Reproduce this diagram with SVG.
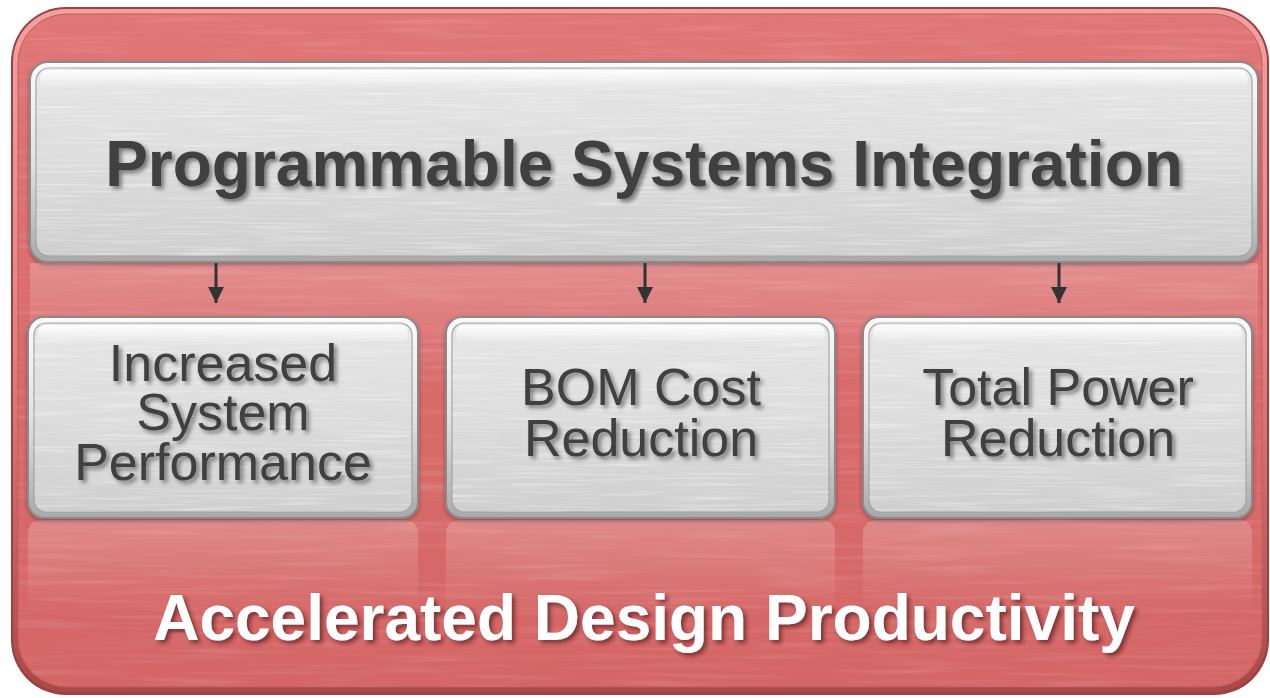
<svg xmlns="http://www.w3.org/2000/svg" width="1270" height="698" viewBox="0 0 1270 698">
  <style>
    .rim { fill: url(#rimGrad); stroke: #8a8a8a; stroke-width: 2; }
    .face { fill: url(#faceGrad); stroke: #a2a2a2; stroke-width: 1.2; }
    .shine { fill: url(#shineGrad); }
    .brush { filter: url(#streaks); opacity: 0.45; }
    .refl { fill: url(#reflGrad); }
    .head { font-family: "Liberation Sans", Arial, sans-serif; font-weight: bold; font-size: 64px; fill: #404040; text-anchor: middle; filter: url(#txtShadow); }
    .item { font-family: "Liberation Sans", Arial, sans-serif; font-size: 52px; fill: #404040; text-anchor: middle; filter: url(#txtShadow); }
    .foot { font-family: "Liberation Sans", Arial, sans-serif; font-weight: bold; font-size: 64px; fill: #ffffff; text-anchor: middle; filter: url(#txtShadowDark); }
    .conn { stroke: #333333; stroke-width: 3; fill: none; marker-end: url(#arrow); }
  </style>
  <defs>
    <linearGradient id="redGrad" x1="0" y1="0" x2="0" y2="1">
      <stop offset="0" stop-color="#e07676"/>
      <stop offset="0.5" stop-color="#d96b6b"/>
      <stop offset="1" stop-color="#d46666"/>
    </linearGradient>
    <linearGradient id="redRim" x1="0" y1="0" x2="0" y2="1">
      <stop offset="0" stop-color="#f2a0a0"/>
      <stop offset="0.5" stop-color="#e08080"/>
      <stop offset="1" stop-color="#a84848"/>
    </linearGradient>
    <linearGradient id="rimGrad" x1="0" y1="0" x2="0" y2="1">
      <stop offset="0" stop-color="#fbfbfb"/>
      <stop offset="0.5" stop-color="#e2e2e2"/>
      <stop offset="1" stop-color="#a9a9a9"/>
    </linearGradient>
    <linearGradient id="faceGrad" x1="0" y1="0" x2="0" y2="1">
      <stop offset="0" stop-color="#e6e6e6"/>
      <stop offset="0.5" stop-color="#dcdcdc"/>
      <stop offset="1" stop-color="#cfcfcf"/>
    </linearGradient>
    <linearGradient id="shineGrad" x1="0" y1="0" x2="0" y2="1">
      <stop offset="0" stop-color="#ffffff" stop-opacity="0.95"/>
      <stop offset="1" stop-color="#ffffff" stop-opacity="0"/>
    </linearGradient>
    <linearGradient id="reflGrad" x1="0" y1="0" x2="0" y2="1">
      <stop offset="0" stop-color="#ffffff" stop-opacity="0.22"/>
      <stop offset="1" stop-color="#ffffff" stop-opacity="0"/>
    </linearGradient>
    <filter id="streaks" x="0" y="0" width="1" height="1">
      <feTurbulence type="fractalNoise" baseFrequency="0.012 0.45" numOctaves="2" seed="4" result="n"/>
      <feColorMatrix in="n" type="matrix" values="0 0 0 0 1  0 0 0 0 1  0 0 0 0 1  0 0 0 2.2 -1.05" result="w"/>
      <feComposite in="w" in2="SourceAlpha" operator="in"/>
    </filter>
    <filter id="redStreaks" x="0" y="0" width="1" height="1">
      <feTurbulence type="fractalNoise" baseFrequency="0.008 0.2" numOctaves="2" seed="9" result="n"/>
      <feColorMatrix in="n" type="matrix" values="0 0 0 0 1  0 0 0 0 0.85  0 0 0 0 0.85  0 0 0 1.6 -0.75" result="w"/>
      <feComposite in="w" in2="SourceAlpha" operator="in"/>
    </filter>
    <filter id="txtShadow" x="-5%" y="-20%" width="110%" height="150%">
      <feDropShadow dx="3" dy="3" stdDeviation="2" flood-color="#000000" flood-opacity="0.45"/>
    </filter>
    <filter id="txtShadowDark" x="-5%" y="-20%" width="110%" height="150%">
      <feDropShadow dx="3" dy="3" stdDeviation="2" flood-color="#5a1e1e" flood-opacity="0.7"/>
    </filter>
    <filter id="boxShadow" x="-5%" y="-5%" width="110%" height="115%">
      <feDropShadow dx="0" dy="2" stdDeviation="2" flood-color="#000000" flood-opacity="0.3"/>
    </filter>
    <marker id="arrow" viewBox="0 0 16 16" refX="16" refY="8" markerWidth="16" markerHeight="16" markerUnits="userSpaceOnUse" orient="auto">
      <path d="M0,0 L16,8 L0,16 Z" fill="#333333"/>
    </marker>
  </defs>

  <rect width="1270" height="698" fill="#ffffff"/>

  <!-- container panel -->
  <g id="container">
    <rect x="11" y="7" width="1258" height="688" rx="55" fill="#9c4040"/>
    <rect x="13" y="9" width="1254" height="683" rx="53" fill="url(#redRim)"/>
    <rect x="18" y="14" width="1244" height="673" rx="49" fill="url(#redGrad)" stroke="#c25b5b" stroke-width="1"/>
    <rect x="18" y="14" width="1244" height="673" rx="49" fill="#d96b6b" style="filter:url(#redStreaks);opacity:0.2"/>
    <!-- reflection bands -->
    <path class="refl" d="M30,263 H1258 V380 H30 Z"/>
    <path class="refl" d="M28,534 Q28,520 44,520 H402 Q418,520 418,534 V615 H28 Z"/>
    <path class="refl" d="M446,534 Q446,520 462,520 H819 Q835,520 835,534 V615 H446 Z"/>
    <path class="refl" d="M863,534 Q863,520 879,520 H1236 Q1252,520 1252,534 V615 H863 Z"/>
    <text class="foot" x="644" y="640">Accelerated Design Productivity</text>
  </g>

  <!-- top node -->
  <g id="node-integration">
    <g filter="url(#boxShadow)">
      <rect class="rim" x="30" y="62" width="1228" height="200" rx="18"/>
    </g>
    <rect class="face" x="36" y="68" width="1216" height="188" rx="13"/>
    <rect class="brush" x="36" y="68" width="1216" height="188" rx="13" fill="#000"/>
    <rect class="shine" x="40" y="70" width="1208" height="18" rx="8"/>
    <text class="head" x="644" y="186">Programmable Systems Integration</text>
  </g>

  <!-- connectors -->
  <g id="connectors">
    <line class="conn" x1="216" y1="263" x2="216" y2="303"/>
    <line class="conn" x1="645" y1="263" x2="645" y2="303"/>
    <line class="conn" x1="1059" y1="263" x2="1059" y2="303"/>
  </g>

  <!-- outcome nodes -->
  <g id="node-performance">
    <g filter="url(#boxShadow)">
      <rect class="rim" x="28" y="317" width="390" height="201" rx="16"/>
    </g>
    <rect class="face" x="34" y="323" width="378" height="189" rx="12"/>
    <rect class="brush" x="34" y="323" width="378" height="189" rx="12" fill="#000"/>
    <rect class="shine" x="38" y="325" width="370" height="18" rx="8"/>
    <text class="item" x="223" y="381">Increased</text>
    <text class="item" x="223" y="430">System</text>
    <text class="item" x="223" y="480">Performance</text>
  </g>

  <g id="node-bom">
    <g filter="url(#boxShadow)">
      <rect class="rim" x="446" y="317" width="389" height="201" rx="16"/>
    </g>
    <rect class="face" x="452" y="323" width="377" height="189" rx="12"/>
    <rect class="brush" x="452" y="323" width="377" height="189" rx="12" fill="#000"/>
    <rect class="shine" x="456" y="325" width="369" height="18" rx="8"/>
    <text class="item" x="641" y="405">BOM Cost</text>
    <text class="item" x="641" y="456">Reduction</text>
  </g>

  <g id="node-power">
    <g filter="url(#boxShadow)">
      <rect class="rim" x="863" y="317" width="389" height="201" rx="16"/>
    </g>
    <rect class="face" x="869" y="323" width="377" height="189" rx="12"/>
    <rect class="brush" x="869" y="323" width="377" height="189" rx="12" fill="#000"/>
    <rect class="shine" x="873" y="325" width="369" height="18" rx="8"/>
    <text class="item" x="1058" y="405">Total Power</text>
    <text class="item" x="1058" y="456">Reduction</text>
  </g>
</svg>
